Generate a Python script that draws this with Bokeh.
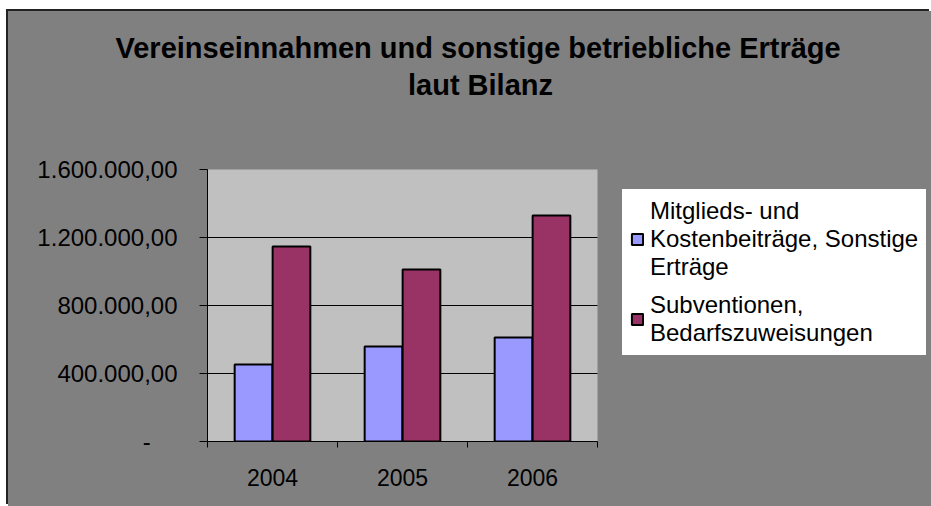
from bokeh.plotting import figure
from bokeh.models import (FixedTicker, Legend, LegendItem, Label, Title, ColumnDataSource,
                          Range1d, BoxAnnotation)
from bokeh.transform import dodge
from bokeh.embed import file_html
from bokeh.resources import INLINE

# ---- data ----
years = ["2004", "2005", "2006"]
mitglieds = [453000, 559000, 612000]
subventionen = [1147000, 1012000, 1329000]
series_names = ["Mitglieds- und\nKostenbeiträge, Sonstige\nErträge",
                "Subventionen,\nBedarfszuweisungen"]
colors = ["#9999FF", "#993366"]
y_ticks = [0, 400000, 800000, 1200000, 1600000]
y_tick_labels = ["-", "400.000,00", "800.000,00", "1.200.000,00", "1.600.000,00"]
title_lines = ["Vereinseinnahmen und sonstige betriebliche Erträge", "laut Bilanz"]

FONT = "Liberation Sans"

n = len(years)
y_max = y_ticks[-1]
x_pos = [i + 0.5 for i in range(n)]
src = ColumnDataSource(dict(x=x_pos, a=mitglieds, b=subventionen))

# The frame covers the plot area plus the legend space and the second title line;
# the light grey plot area is the first n category slots and 0..y_max.
FIG_W, FIG_H = 923, 495
LEFT, BOTTOM, TOP = 199, 65, 56
AREA_W, AREA_H = 390, 272
frame_w = FIG_W - LEFT
frame_h = FIG_H - BOTTOM - TOP
x_end = n * frame_w / AREA_W
y_end = y_max * frame_h / AREA_H

p = figure(width=FIG_W, height=FIG_H, output_backend="svg", toolbar_location=None,
           x_range=Range1d(0, x_end), y_range=Range1d(0, y_end),
           min_border_left=LEFT, min_border_right=0, min_border_top=TOP,
           min_border_bottom=BOTTOM)
p.border_fill_color = None
p.background_fill_color = None
p.outline_line_color = None
p.styles = {"margin-left": "8px", "margin-top": "11px",
            "background-color": "#808080",
            "box-shadow": "-2px -2px 0 0 #222"}

# light grey plot area
p.add_layout(BoxAnnotation(left=0, right=n, bottom=0, top=y_max,
                           fill_color="#C0C0C0", fill_alpha=1, line_color=None,
                           level="image"))

bw = 0.29
r1 = p.vbar(x=dodge("x", -0.146, range=p.x_range), top="a", width=bw, source=src,
            fill_color=colors[0], line_color="black", line_width=2)
r2 = p.vbar(x=dodge("x", 0.146, range=p.x_range), top="b", width=bw, source=src,
            fill_color=colors[1], line_color="black", line_width=2)

# x axis: labels at centres, ticks at category boundaries
xa = p.xaxis[0]
xa.bounds = (0, n)
xa.ticker = FixedTicker(ticks=x_pos, minor_ticks=list(range(n + 1)))
xa.major_label_overrides = {x: y for x, y in zip(x_pos, years)}
xa.major_tick_line_color = None
xa.major_tick_out = 0
xa.major_tick_in = 0
xa.minor_tick_line_color = "black"
xa.minor_tick_out = 6
xa.minor_tick_in = 0
xa.axis_line_color = "black"
xa.major_label_text_font = FONT
xa.major_label_text_font_size = "23px"
xa.major_label_text_color = "black"
xa.major_label_standoff = 21

ya = p.yaxis[0]
ya.bounds = (0, y_max)
ya.ticker = FixedTicker(ticks=y_ticks)
ya.major_label_overrides = {t: (l if l != "-" else l + "\u00a0" * 4)
                            for t, l in zip(y_ticks, y_tick_labels)}
ya.minor_tick_line_color = None
ya.major_tick_out = 8
ya.major_tick_in = 0
ya.axis_line_color = "black"
ya.major_tick_line_color = "black"
ya.major_label_text_font = FONT
ya.major_label_text_font_size = "24px"
ya.major_label_text_color = "black"
ya.major_label_standoff = 22

p.xgrid.grid_line_color = None
p.ygrid.ticker = FixedTicker(ticks=y_ticks[:-1])
p.ygrid.cross_bounds = (0, n)
p.ygrid.grid_line_color = "black"
p.ygrid.grid_line_width = 1

# title line 1 in the top panel, line 2 inside the frame
p.title = Title(text=title_lines[0], align="left", offset=-92, standoff=8,
                text_font=FONT, text_font_size="29px", text_font_style="bold",
                text_color="black")
p.add_layout(Label(x=273, y=357, x_units="screen", y_units="screen",
                   text=title_lines[1], text_align="center",
                   text_baseline="alphabetic", text_font=FONT,
                   text_font_size="29px", text_font_style="bold",
                   text_color="black"))

legend = Legend(items=[LegendItem(label=series_names[0], renderers=[r1]),
                       LegendItem(label=series_names[1], renderers=[r2])],
                location=(414, 85), margin=0, padding=8, spacing=10,
                glyph_width=14, glyph_height=14, label_standoff=6,
                label_text_font=FONT, label_text_font_size="24px",
                label_text_color="black",
                border_line_color="black", border_line_width=1.5,
                background_fill_color="white", background_fill_alpha=1)
p.add_layout(legend, "center")

open("out.html", "w").write(file_html(p, INLINE))
